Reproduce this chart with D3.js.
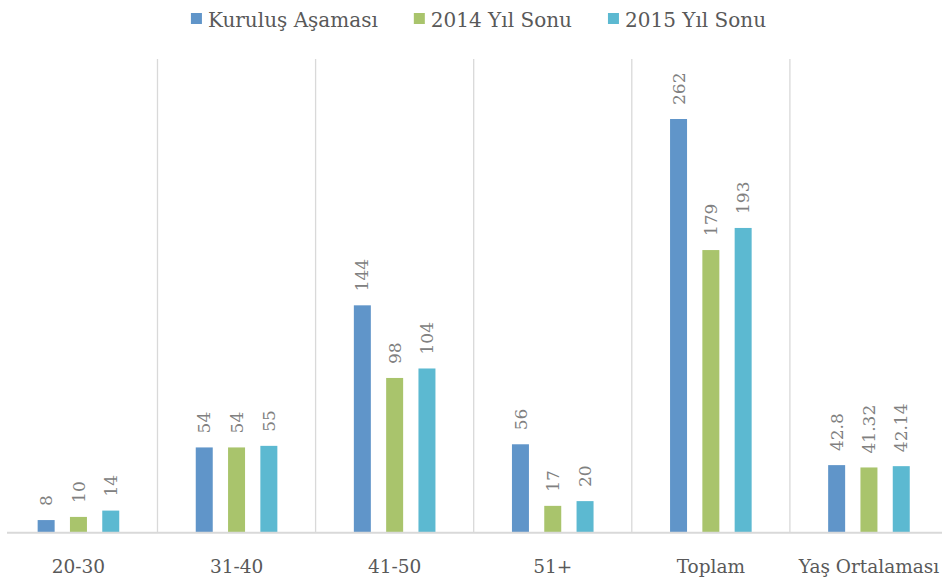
<!DOCTYPE html>
<html>
<head>
<meta charset="utf-8">
<script src="https://cdn.jsdelivr.net/npm/d3@7"></script>
<style>
  body { margin: 0; background: #fff; }
  svg { display: block; font-family: "DejaVu Serif", serif; }
</style>
</head>
<body>
<svg id="main-svg"></svg>
<script>
// --- Data ---
const categories = ["20-30", "31-40", "41-50", "51+", "Toplam", "Yaş Ortalaması"];
const seriesNames = ["Kuruluş Aşaması", "2014 Yıl Sonu", "2015 Yıl Sonu"];
const kurulus = [8, 54, 144, 56, 262, 42.8];
const yil2014 = [10, 54, 98, 17, 179, 41.32];
const yil2015 = [14, 55, 104, 20, 193, 42.14];
const seriesColors = ["#6095C9", "#A9C46C", "#5CB9D1"];

const width = 942, height = 579;
const svg = d3.select("#main-svg").attr("width", width).attr("height", height);

const baseY = 532.7, topY = 59;

const x0 = d3.scaleBand().domain(categories).range([-0.6, 948]).paddingInner(0).paddingOuter(0);
const x1 = d3.scaleBand().domain(seriesNames).range([0, x0.bandwidth()])
             .paddingInner(0.474).paddingOuter(1.184);
const y = d3.scaleLinear().domain([0, 300]).range([baseY, topY]);

const seriesData = [kurulus, yil2014, yil2015];

// vertical separators between categories
svg.append("g")
   .selectAll("line")
   .data(categories.slice(1))
   .enter().append("line")
   .attr("x1", d => x0(d)).attr("x2", d => x0(d))
   .attr("y1", topY).attr("y2", baseY)
   .attr("stroke", "#d9d9d9").attr("stroke-width", 1.3);

// bars
const groups = svg.append("g")
   .selectAll("g")
   .data(categories)
   .enter().append("g")
   .attr("transform", d => `translate(${x0(d)},0)`);

groups.each(function(cat, ci) {
    const g = d3.select(this);
    seriesNames.forEach((s, si) => {
        const v = seriesData[si][ci];
        g.append("rect")
         .attr("x", x1(s))
         .attr("y", y(v))
         .attr("width", x1.bandwidth())
         .attr("height", baseY - y(v))
         .attr("fill", seriesColors[si]);
        g.append("text")
         .attr("transform", `translate(${x1(s) + x1.bandwidth() / 2},${y(v) - 14}) rotate(-90)`)
         .attr("dy", "0.36em")
         .attr("font-size", 17)
         .attr("fill", "#808080")
         .text(v);
    });
});

// baseline axis
svg.append("line")
   .attr("x1", 7).attr("x2", 942)
   .attr("y1", baseY).attr("y2", baseY)
   .attr("stroke", "#d9d9d9").attr("stroke-width", 2);

// category labels
svg.append("g")
   .selectAll("text")
   .data(categories)
   .enter().append("text")
   .attr("x", d => x0(d) + x0.bandwidth() / 2)
   .attr("y", 573)
   .attr("text-anchor", "middle")
   .attr("font-size", 18.5)
   .attr("fill", "#595959")
   .text(d => d);

// legend
const legend = svg.append("g");
const items = legend.selectAll("g")
   .data(seriesNames)
   .enter().append("g");
items.append("rect")
   .attr("width", 11).attr("height", 11)
   .attr("y", 13)
   .attr("fill", (d, i) => seriesColors[i]);
items.append("text")
   .attr("x", 17).attr("y", 27)
   .attr("font-size", 20)
   .attr("fill", "#595959")
   .text(d => d);

let lx = 0;
items.each(function() {
    const w = d3.select(this).select("text").node().getComputedTextLength();
    d3.select(this).attr("transform", `translate(${lx},0)`);
    lx += 17 + w + 36;
});
const legendW = lx - 36;
legend.attr("transform", `translate(${478.5 - legendW / 2},0)`);
</script>
</body>
</html>
